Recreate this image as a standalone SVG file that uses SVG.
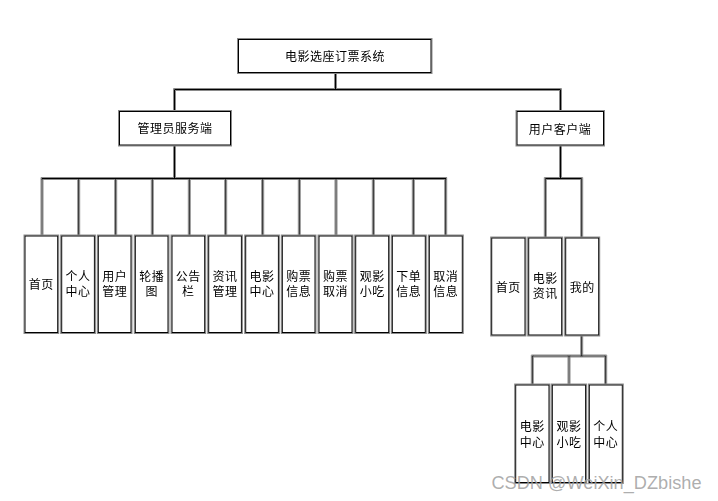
<svg xmlns="http://www.w3.org/2000/svg" width="718" height="501" viewBox="0 0 718 501">
<style>
.box{fill:#fff;stroke:#000;stroke-width:1}
.ln{stroke:#000;stroke-width:1;fill:none}
text{font-family:"Noto Sans CJK SC","Liberation Sans",sans-serif;font-size:12px;fill:#000;text-anchor:middle;letter-spacing:0.5px}
.wm{font-family:"Liberation Sans",Arial,sans-serif;font-size:17.5px;fill:#a0a0a0;fill-opacity:0.85;letter-spacing:0;text-anchor:start}
</style>
<defs>
<filter id="sh" x="-10%" y="-10%" width="120%" height="120%">
<feMorphology in="SourceAlpha" operator="dilate" radius="0.5" result="d"/>
<feFlood flood-color="#8a8a8a"/>
<feComposite in2="d" operator="in" result="g"/>
<feMerge><feMergeNode in="g"/><feMergeNode in="SourceGraphic"/></feMerge>
</filter>
</defs>
<rect width="718" height="501" fill="#fff"/>
<g id="connectors" filter="url(#sh)">
<path class="ln" d="M335.5 72.5V89.5M174.5 89.5H560.5M174.5 89.5V111M560.5 89.5V111.5"/>
<path class="ln" d="M174.5 145V178.5M42 178.5H446M42 178.5V236M78.7 178.5V236M115.7 178.5V236M152.3 178.5V236M189.3 178.5V236M225.7 178.5V236M262.7 178.5V236M299.3 178.5V236M336 178.5V236M373.3 178.5V236M413.3 178.5V236M445.7 178.5V236"/>
<path class="ln" d="M560.5 145V178.5M545.3 178.5H581.7M545.3 178.5V238M581.7 178.5V238"/>
<path class="ln" d="M581.7 335V356M532.3 356H605.7M532.3 356V385M569 356V385M605.7 356V385"/>
</g>
<g filter="url(#sh)">
<g id="n-root"><rect class="box" x="238.5" y="39.5" width="192.5" height="33"/><text x="335" y="61">电影选座订票系统</text></g>
<g id="n-admin"><rect class="box" x="119.5" y="111.5" width="111" height="33.5"/><text x="175" y="133.3">管理员服务端</text></g>
<g id="n-user"><rect class="box" x="517" y="111.5" width="86.5" height="33.5"/><text x="560" y="133.5">用户客户端</text></g>

<g id="a1"><rect class="box" x="25" y="236" width="32.7" height="96.5"/><text x="41.3" y="289">首页</text></g>
<g id="a2"><rect class="box" x="61.7" y="236" width="32.7" height="96.5"/><text x="78" y="281">个人<tspan x="78" dy="15">中心</tspan></text></g>
<g id="a3"><rect class="box" x="98.3" y="236" width="32.7" height="96.5"/><text x="114.7" y="281">用户<tspan x="114.7" dy="15">管理</tspan></text></g>
<g id="a4"><rect class="box" x="135.3" y="236" width="32.7" height="96.5"/><text x="151.7" y="281">轮播<tspan x="151.7" dy="15">图</tspan></text></g>
<g id="a5"><rect class="box" x="172" y="236" width="32.7" height="96.5"/><text x="188.3" y="281">公告<tspan x="188.3" dy="15">栏</tspan></text></g>
<g id="a6"><rect class="box" x="208.7" y="236" width="32.7" height="96.5"/><text x="225" y="281">资讯<tspan x="225" dy="15">管理</tspan></text></g>
<g id="a7"><rect class="box" x="245.7" y="236" width="32.7" height="96.5"/><text x="262" y="281">电影<tspan x="262" dy="15">中心</tspan></text></g>
<g id="a8"><rect class="box" x="282.3" y="236" width="32.7" height="96.5"/><text x="298.7" y="281">购票<tspan x="298.7" dy="15">信息</tspan></text></g>
<g id="a9"><rect class="box" x="319" y="236" width="33" height="96.5"/><text x="335.5" y="281">购票<tspan x="335.5" dy="15">取消</tspan></text></g>
<g id="a10"><rect class="box" x="355.7" y="236" width="33" height="96.5"/><text x="372.2" y="281">观影<tspan x="372.2" dy="15">小吃</tspan></text></g>
<g id="a11"><rect class="box" x="392.3" y="236" width="33" height="96.5"/><text x="408.8" y="281">下单<tspan x="408.8" dy="15">信息</tspan></text></g>
<g id="a12"><rect class="box" x="429.3" y="236" width="33" height="96.5"/><text x="445.8" y="281">取消<tspan x="445.8" dy="15">信息</tspan></text></g>

<g id="u1"><rect class="box" x="491.7" y="238" width="33.3" height="97"/><text x="508.3" y="291.5">首页</text></g>
<g id="u2"><rect class="box" x="528.7" y="238" width="33" height="97"/><text x="545.2" y="282.5">电影<tspan x="545.2" dy="15">资讯</tspan></text></g>
<g id="u3"><rect class="box" x="565.7" y="238" width="33" height="97"/><text x="582.2" y="291.5">我的</text></g>

<g id="m1"><rect class="box" x="515.7" y="385" width="33.3" height="97.5"/><text x="532.3" y="431">电影<tspan x="532.3" dy="15.5">中心</tspan></text></g>
<g id="m2"><rect class="box" x="552.3" y="385" width="33.3" height="97.5"/><text x="569" y="431">观影<tspan x="569" dy="15.5">小吃</tspan></text></g>
<g id="m3"><rect class="box" x="589.3" y="385" width="33" height="97.5"/><text x="605.8" y="431">个人<tspan x="605.8" dy="15.5">中心</tspan></text></g>
</g>
<text class="wm" x="491.5" y="489" textLength="210" lengthAdjust="spacingAndGlyphs">CSDN @WeiXin_DZbishe</text>
</svg>
